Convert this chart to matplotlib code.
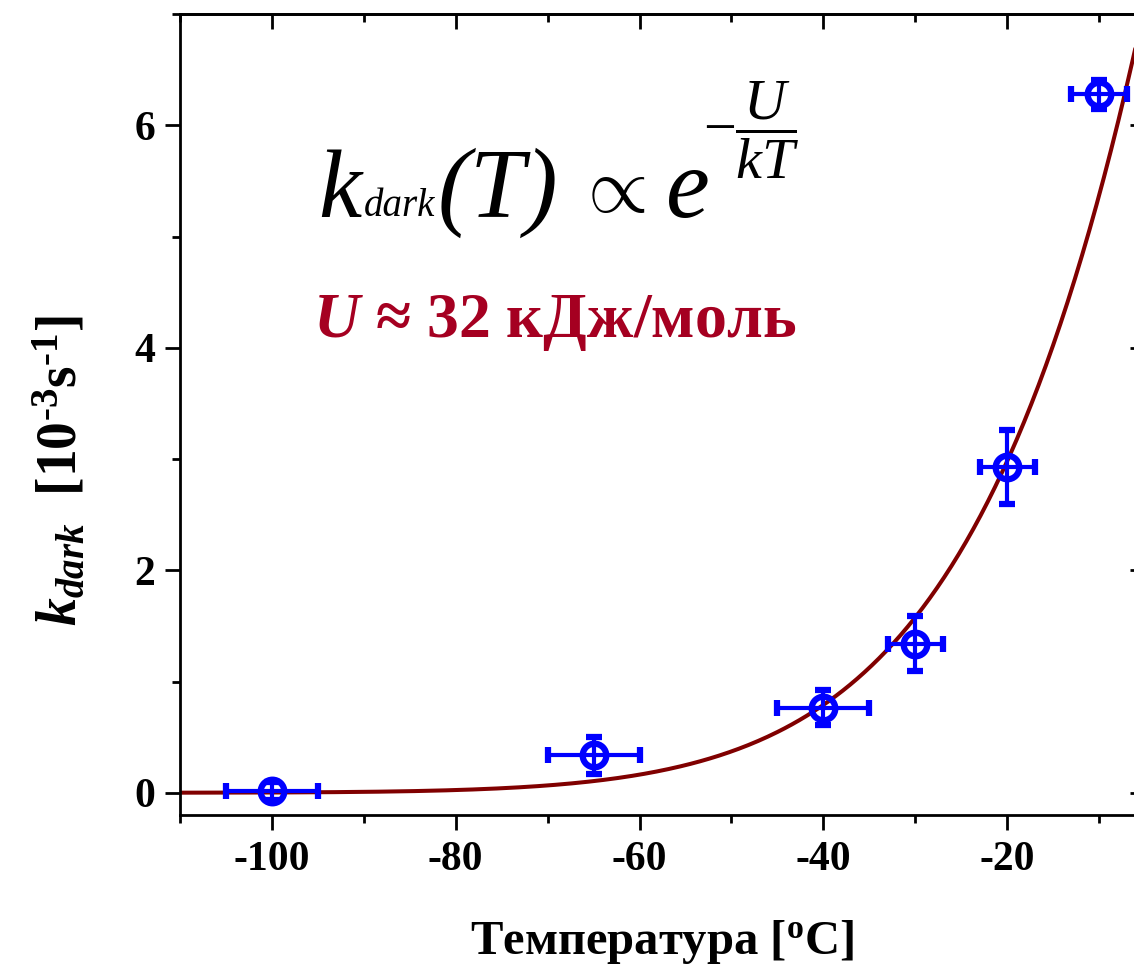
# Зависимость k_dark от температуры с аррениусовской аппроксимацией
import numpy as np
import matplotlib
matplotlib.use('Agg')
import matplotlib.pyplot as plt

# Данные
temp_c = [-100, -65, -40, -30, -20, -10]
k_dark = [0.016, 0.335, 0.766, 1.34, 2.93, 6.28]
temp_err = [5, 5, 5, 3, 3, 3]
k_err = [0.08, 0.17, 0.16, 0.25, 0.33, 0.13]

# Параметры аппроксимации k = k_ref * exp(-U/R * (1/T - 1/T_ref))
U_fit = 32.6e3      # Дж/моль
R_gas = 8.314
T_ref = -20.0       # °C
k_ref = 2.98

x_ticks = [-100, -80, -60, -40, -20]
y_ticks = [0, 2, 4, 6]

plt.rcParams['font.family'] = ['Liberation Serif', 'DejaVu Serif']
plt.rcParams['font.weight'] = 'bold'
plt.rcParams['mathtext.fontset'] = 'custom'
plt.rcParams['mathtext.rm'] = 'Liberation Serif:normal'
plt.rcParams['mathtext.it'] = 'Liberation Serif:italic:normal'
plt.rcParams['mathtext.bf'] = 'Liberation Serif:bold'
plt.rcParams['mathtext.bfit'] = 'Liberation Serif:italic:bold'

W, H = 1134, 969
fig = plt.figure(figsize=(W / 100, H / 100), dpi=100)
# правая граница осей чуть за краем картинки (как в оригинале)
ax = fig.add_axes([180 / W, 154 / H, 965 / W, 801 / H])


def px(x, y):
    # пиксели картинки -> доли фигуры
    return x / W, 1 - y / H


# кривая аппроксимации
t_line = np.linspace(-110, -5, 400)
k_line = k_ref * np.exp(-U_fit / R_gas * (1 / (t_line + 273.15) - 1 / (T_ref + 273.15)))
ax.plot(t_line, k_line, color='#800000', lw=2.9, zorder=2)

# экспериментальные точки
ax.errorbar(temp_c, k_dark, xerr=temp_err, yerr=k_err, fmt='o', color='#0000FF',
            ms=17, mfc='none', mew=4.5, elinewidth=3, capsize=6, capthick=3, zorder=3)

ax.set_xlim(-110, -5)
ax.set_ylim(-0.2, 7)
ax.set_xticks(x_ticks)
ax.set_yticks(y_ticks)
ax.set_xticks(np.arange(-110, -4, 10), minor=True)
ax.set_yticks(np.arange(0, 7.1, 1), minor=True)
ax.set_xticklabels([str(v) for v in x_ticks])

for s in ax.spines.values():
    s.set_linewidth(2)
ax.tick_params(which='both', width=2, labelsize=30, direction='out')
ax.tick_params(which='major', length=11)
ax.tick_params(which='minor', length=6)
ax.tick_params(axis='x', which='major', pad=8)
ax.tick_params(axis='y', which='major', pad=7)

# верхние и правые засечки внутрь
top = ax.secondary_xaxis('top')
top.set_xticks(x_ticks)
top.set_xticks(np.arange(-110, -4, 10), minor=True)
top.tick_params(which='both', direction='in', width=2, labeltop=False)
top.tick_params(which='major', length=11)
top.tick_params(which='minor', length=6)
top.spines['top'].set_linewidth(2)
right = ax.secondary_yaxis('right')
right.set_yticks(y_ticks)
right.set_yticks(np.arange(0, 7.1, 1), minor=True)
right.tick_params(which='both', direction='in', width=2, labelright=False)
right.tick_params(which='major', length=11)
right.tick_params(which='minor', length=6)

ax.set_xlabel(r'Температура [$^{\mathbf{o}}$C]', fontsize=35, fontweight='bold', labelpad=28)
ax.set_ylabel('$\\mathbfit{k}_{\\mathbfit{dark}}$  [10$^{\\mathbf{\u20103}}$s$^{\\mathbf{\u20101}}$]',
              fontsize=40, fontweight='bold')
ax.yaxis.set_label_coords(-0.095, 0.43)

# формула k_dark(T) ~ exp(-U/kT), собрана по кусочкам
it = dict(style='italic', weight='normal', va='baseline', ha='left')
fig.text(*px(318, 217), 'k', fontsize=70, **it)
fig.text(*px(364, 216), 'dark', fontsize=28, **it)
fig.text(*px(438, 217), '(T)', fontsize=71, **it)
fig.text(*px(576, 212), r'$\propto$', fontsize=56, weight='normal', va='baseline', ha='left')
fig.text(*px(666, 217), 'e', fontsize=71, **it)
fig.text(*px(703, 130), r'$-\dfrac{U}{kT}$', fontsize=42, weight='normal', va='center', ha='left')

ax.text(0.138, 0.597, r'$\mathbfit{U}$ ≈ 32 кДж/моль', transform=ax.transAxes,
        fontsize=46, fontweight='bold', color='#A50021', va='baseline', ha='left')

plt.savefig('out.png', dpi=100)
